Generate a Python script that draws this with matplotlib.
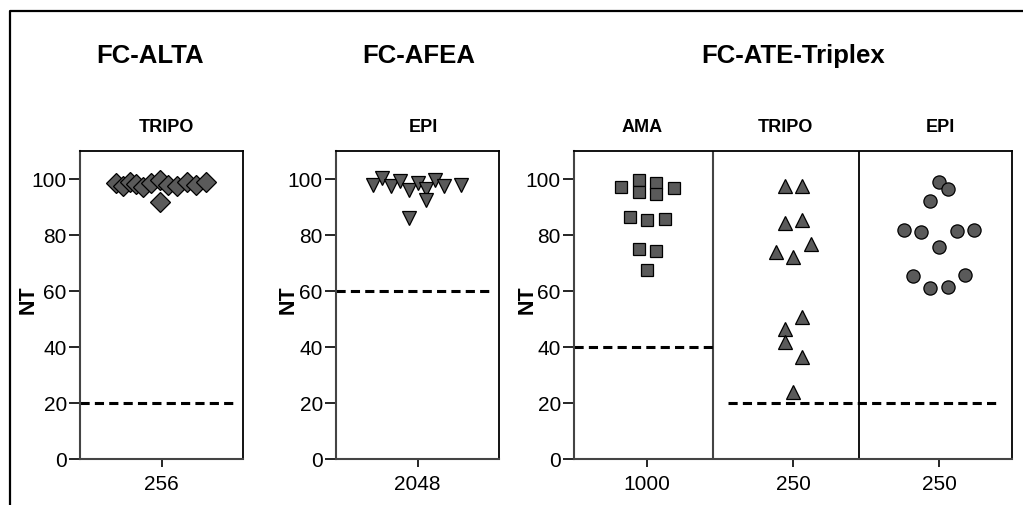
import numpy as np
import matplotlib.pyplot as plt
from matplotlib.lines import Line2D

plt.rcParams['font.family'] = ['Liberation Sans', 'DejaVu Sans']

# NT values per group
alta_tripo = [98.6, 97.6, 98.8, 98.3, 97.3, 98.6, 99.5, 97.9, 97.4, 98.8, 97.9, 98.8, 91.9]
afea_epi = [97.9, 100.2, 97.6, 99.3, 96.2, 98.6, 96.4, 92.6, 99.8, 97.6, 97.9, 86.2]
ate_ama = [97.1, 99.5, 95.5, 98.4, 94.5, 96.9, 86.4, 85.4, 85.6, 75.0, 74.4, 67.5]
ate_tripo = [97.4, 97.4, 84.3, 85.5, 76.8, 74.0, 72.3, 50.6, 46.4, 41.7, 36.3, 23.8]
ate_epi = [98.8, 96.4, 92.0, 81.8, 81.2, 81.4, 81.9, 75.8, 65.5, 61.0, 61.5, 65.7]

# column-scatter spread of the points, as drawn in the original
alta_tripo_dx = [-0.279, -0.238, -0.193, -0.156, -0.112, -0.066, -0.009, 0.042, 0.093, 0.158, 0.212, 0.273, -0.009]
afea_epi_dx = [-0.271, -0.218, -0.163, -0.107, -0.054, 0.001, 0.052, 0.052, 0.107, 0.161, 0.267, -0.054]
ate_ama_dx = [-0.176, -0.055, -0.055, 0.064, 0.064, 0.185, -0.116, 0.002, 0.123, -0.055, 0.064, 0.002]
ate_tripo_dx = [-0.057, 0.062, -0.057, 0.062, 0.121, -0.116, 0.002, 0.062, -0.057, -0.057, 0.062, 0.002]
ate_epi_dx = [0.0, 0.06, -0.06, -0.238, -0.12, 0.12, 0.238, 0.0, -0.18, -0.06, 0.06, 0.18]

# cut-off lines
alta_cut = 20
afea_cut = 60
ama_cut = 40
tripo_epi_cut = 20

dil_alta = ['256']
dil_afea = ['2048']
dil_ate = ['1000', '250', '250']

face = '#5a5a5a'
W, H = 1023, 506
fig = plt.figure(figsize=(W / 100, H / 100), dpi=100)


def px(x0, x1, y0=152, y1=460):
    return [x0 / W, 1 - y1 / H, (x1 - x0) / W, (y1 - y0) / H]


def style(ax, labels):
    ax.set_ylim(0, 110)
    ax.set_yticks([0, 20, 40, 60, 80, 100])
    ax.set_xticks(range(len(labels)))
    ax.set_xticklabels(labels)
    ax.set_xlim(-0.5, len(labels) - 0.5)
    ax.tick_params(axis='y', direction='out', length=8, width=1.2, pad=1.5, labelsize=15)
    ax.tick_params(axis='x', direction='out', length=6, width=1.2, pad=5, labelsize=15)
    for s in ['top', 'right']:
        ax.spines[s].set_color('black')
        ax.spines[s].set_linewidth(1.3)
    for s in ['left', 'bottom']:
        ax.spines[s].set_color('#444444')
        ax.spines[s].set_linewidth(1.5)


def dots(ax, x, dx, vals, marker, ms):
    ax.plot(np.array(dx) + x, vals, linestyle='none', marker=marker, ms=ms,
            mfc=face, mec='black', mew=0.9, zorder=3)


def cut(ax, y, x0, x1):
    ax.plot([x0, x1], [y, y], color='black', lw=2.2, dashes=(3, 1.7), zorder=2)


ax1 = fig.add_axes(px(80, 243))
style(ax1, dil_alta)
dots(ax1, 0, alta_tripo_dx, alta_tripo, 'D', 10)
cut(ax1, alta_cut, -0.5, 0.457)

ax2 = fig.add_axes(px(336, 499))
style(ax2, dil_afea)
dots(ax2, 0, afea_epi_dx, afea_epi, 'v', 9.5)
cut(ax2, afea_cut, -0.5, 0.463)

ax3 = fig.add_axes(px(574, 1012))
style(ax3, dil_ate)
dots(ax3, 0, ate_ama_dx, ate_ama, 's', 9)
dots(ax3, 1, ate_tripo_dx, ate_tripo, '^', 10)
dots(ax3, 2, ate_epi_dx, ate_epi, 'o', 9.5)
ax3.axvline(0.452, color='#444444', lw=1.5)
ax3.axvline(1.454, color='black', lw=1.3)
cut(ax3, ama_cut, -0.5, 0.452)
cut(ax3, tripo_epi_cut, 0.553, 2.41)

# group titles
for x, t in [(150, 'FC-ALTA'), (419, 'FC-AFEA'), (793, 'FC-ATE-Triplex')]:
    fig.text(x / W, 1 - 63.3 / H, t, ha='center', va='baseline', fontsize=18.5, fontweight='bold')
for x, t in [(166, 'TRIPO'), (423, 'EPI'), (642, 'AMA'), (785, 'TRIPO'), (940, 'EPI')]:
    fig.text(x / W, 1 - 131.7 / H, t, ha='center', va='baseline', fontsize=13, fontweight='bold')
for x in [34, 294, 533]:
    fig.text(x / W, 1 - 300 / H, 'NT', rotation=90, rotation_mode='anchor',
             ha='center', va='baseline', fontsize=15.5, fontweight='bold')

# outer frame (only top and left edges visible in the crop)
fig.add_artist(Line2D([10 / W, 10 / W, 1.0], [0.0, 1 - 12 / H, 1 - 12 / H],
                      transform=fig.transFigure, color='black', lw=1.6))

fig.savefig('out.png', dpi=100)
